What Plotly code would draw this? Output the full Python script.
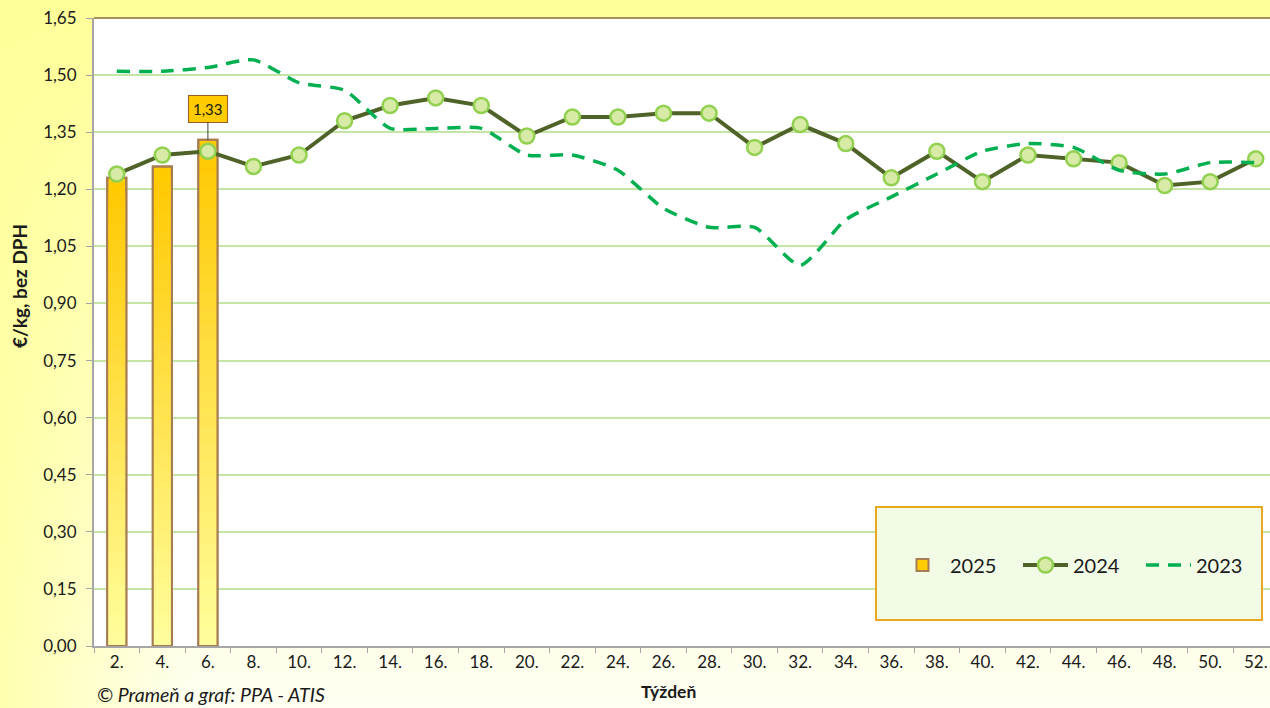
import base64
import plotly.graph_objects as go

# ---------------- data ----------------
weeks = ["2.", "4.", "6.", "8.", "10.", "12.", "14.", "16.", "18.", "20.", "22.", "24.", "26.",
         "28.", "30.", "32.", "34.", "36.", "38.", "40.", "42.", "44.", "46.", "48.", "50.", "52."]
weeks_2025 = ["2.", "4.", "6."]
vals_2025 = [1.23, 1.26, 1.33]
vals_2024 = [1.24, 1.29, 1.30, 1.26, 1.29, 1.38, 1.42, 1.44, 1.42, 1.34, 1.39, 1.39, 1.40,
             1.40, 1.31, 1.37, 1.32, 1.23, 1.30, 1.22, 1.29, 1.28, 1.27, 1.21, 1.22, 1.28]
vals_2023 = [1.51, 1.51, 1.52, 1.54, 1.48, 1.46, 1.36, 1.36, 1.36, 1.29, 1.29, 1.25, 1.15,
             1.10, 1.10, 1.00, 1.12, 1.18, 1.24, 1.30, 1.32, 1.31, 1.25, 1.24, 1.27, 1.27]
y_ticks = [0.00, 0.15, 0.30, 0.45, 0.60, 0.75, 0.90, 1.05, 1.20, 1.35, 1.50, 1.65]

FONT = "Lato"
W, H = 1270, 708
ML, MR, MT, MB = 94, 0, 18, 62
PW, PH = W - ML - MR, H - MT - MB

fig = go.Figure()

# 2025 bars with vertical gradient (gold top -> pale yellow bottom)
top_rgb = (255, 200, 0)
bot_rgb = (255, 255, 160)
N = 30
BW = 0.42
fig.add_trace(go.Bar(x=weeks_2025, y=vals_2025, name="2025", width=BW,
                     marker=dict(color="#FFCC00", line=dict(color="#A67C52", width=2)),
                     showlegend=True, hoverinfo="skip"))
for k in range(N - 1, 0, -1):
    f = k / N
    c = tuple(round(bot_rgb[i] + (top_rgb[i] - bot_rgb[i]) * f) for i in range(3))
    fig.add_trace(go.Bar(x=weeks_2025, y=[v * f for v in vals_2025], width=BW,
                         marker=dict(color="rgb(%d,%d,%d)" % c, line=dict(width=0)),
                         showlegend=False, hoverinfo="skip"))
fig.add_trace(go.Bar(x=weeks_2025, y=vals_2025, width=BW,
                     marker=dict(color="rgba(0,0,0,0)", line=dict(color="#A67C52", width=2)),
                     showlegend=False, hoverinfo="skip"))

# 2024 line with markers
fig.add_trace(go.Scatter(x=weeks, y=vals_2024, name="2024", mode="lines+markers",
                         line=dict(color="#4F6228", width=4),
                         marker=dict(size=15, color="#D7EAA6", line=dict(color="#92D050", width=2.5))))
# 2023 dashed smooth line
fig.add_trace(go.Scatter(x=weeks, y=vals_2023, name="2023", mode="lines",
                         line=dict(color="#00B050", width=3.5, dash="13px,9px",
                                   shape="spline", smoothing=0.6)))

# background gradient as svg
svg = ("<svg xmlns='http://www.w3.org/2000/svg' width='1270' height='708' preserveAspectRatio='none'>"
       "<defs>"
       "<linearGradient id='v' x1='0' y1='0' x2='0' y2='1'>"
       "<stop offset='0' stop-color='#FFFF99'/><stop offset='0.5' stop-color='#FFFFC8'/>"
       "<stop offset='1' stop-color='#FFFFF2'/></linearGradient>"
       "<linearGradient id='h' x1='0' y1='0' x2='1' y2='0'>"
       "<stop offset='0' stop-color='#FFFF99' stop-opacity='0.75'/>"
       "<stop offset='0.15' stop-color='#FFFF99' stop-opacity='0'/></linearGradient>"
       "</defs>"
       "<rect width='1270' height='708' fill='url(#v)'/>"
       "<rect width='1270' height='708' fill='url(#h)'/></svg>")
src = "data:image/svg+xml;base64," + base64.b64encode(svg.encode()).decode()

def px_x(px):
    return (px - ML) / PW

def px_y(py):
    return (H - MB - py) / PH

label_val = vals_2025[-1]
label_txt = ("%.2f" % label_val).replace(".", ",")
label_idx = weeks.index(weeks_2025[-1])

fig.update_layout(
    width=W, height=H,
    margin=dict(l=ML, r=MR, t=MT, b=MB, pad=0, autoexpand=False),
    paper_bgcolor="#FFFFF0",
    plot_bgcolor="#FFFFFF",
    barmode="overlay",
    separators=", ",
    font=dict(family=FONT, size=16, color="#1A1A1A"),
    images=[dict(source=src, xref="paper", yref="paper",
                 x=px_x(0), y=px_y(0), sizex=W / PW, sizey=H / PH,
                 xanchor="left", yanchor="top", sizing="stretch", layer="below")],
    xaxis=dict(categoryorder="array", categoryarray=weeks, type="category",
               range=[-0.5, (PW / 45.56) - 0.5],
               showgrid=False, showline=True, linecolor="#A6A6A6", linewidth=1.5,
               ticks="outside", ticklen=5, tickcolor="#A6A6A6", tickson="boundaries",
               tickfont=dict(size=17, family=FONT, color="#1A1A1A"), zeroline=False),
    yaxis=dict(range=[0, 1.65], tickvals=y_ticks, tickformat=".2f",
               showgrid=True, gridcolor="#C4E5A5", gridwidth=2,
               showline=True, linecolor="#A6A6A6", linewidth=2,
               ticks="outside", ticklen=6, tickcolor="#A6A6A6",
               ticklabelstandoff=6,
               tickfont=dict(size=17, family=FONT, color="#1A1A1A"), zeroline=False),
    legend=dict(orientation="h", x=px_x(895), y=px_y(565), xanchor="left", yanchor="middle",
                bgcolor="rgba(0,0,0,0)", borderwidth=0,
                font=dict(size=20, family=FONT, color="#1A1A1A"),
                entrywidth=63, entrywidthmode="pixels", itemwidth=45),
    shapes=[
        dict(type="rect", xref="paper", yref="paper", x0=0, x1=1, y0=0, y1=1,
             fillcolor="#FFFFFF", line=dict(width=0), layer="below"),
        dict(type="rect", xref="paper", yref="paper",
             x0=px_x(876), x1=px_x(1262), y0=px_y(620), y1=px_y(507),
             fillcolor="#F2FBE5", line=dict(color="#E8A820", width=2), layer="above"),
        dict(type="line", xref="paper", yref="paper", x0=0, x1=1, y0=1, y1=1,
             line=dict(color="#A8905A", width=2), layer="above"),
    ],
    annotations=[
        dict(x=label_idx, y=label_val, xref="x", yref="y", text=label_txt,
             showarrow=True, arrowhead=0, arrowwidth=1, arrowcolor="#404040",
             ax=0, ay=-31, bgcolor="#FFCC00", bordercolor="#9C5A28", borderwidth=1,
             borderpad=4, font=dict(size=15, family=FONT, color="#1A1A1A")),
        dict(x=px_x(19), y=px_y(286), xref="paper", yref="paper", text="<b>€/kg, bez DPH</b>",
             textangle=-90, showarrow=False, xanchor="center", yanchor="middle",
             font=dict(size=19, family=FONT, color="#1A1A1A")),
        dict(x=px_x(668), y=px_y(691), xref="paper", yref="paper", text="<b>Týždeň</b>",
             showarrow=False, xanchor="center", yanchor="middle",
             font=dict(size=17.5, family=FONT, color="#1A1A1A")),
        dict(x=px_x(95), y=px_y(694), xref="paper", yref="paper",
             text="<i>© Prameň a graf: PPA - ATIS</i>", showarrow=False,
             xanchor="left", yanchor="middle",
             font=dict(size=19.5, family=FONT, color="#1A1A1A")),
    ],
)

fig.write_html("out.html", config={"displayModeBar": False},
               post_script="document.body.style.margin='0';document.body.style.overflow='hidden';")
